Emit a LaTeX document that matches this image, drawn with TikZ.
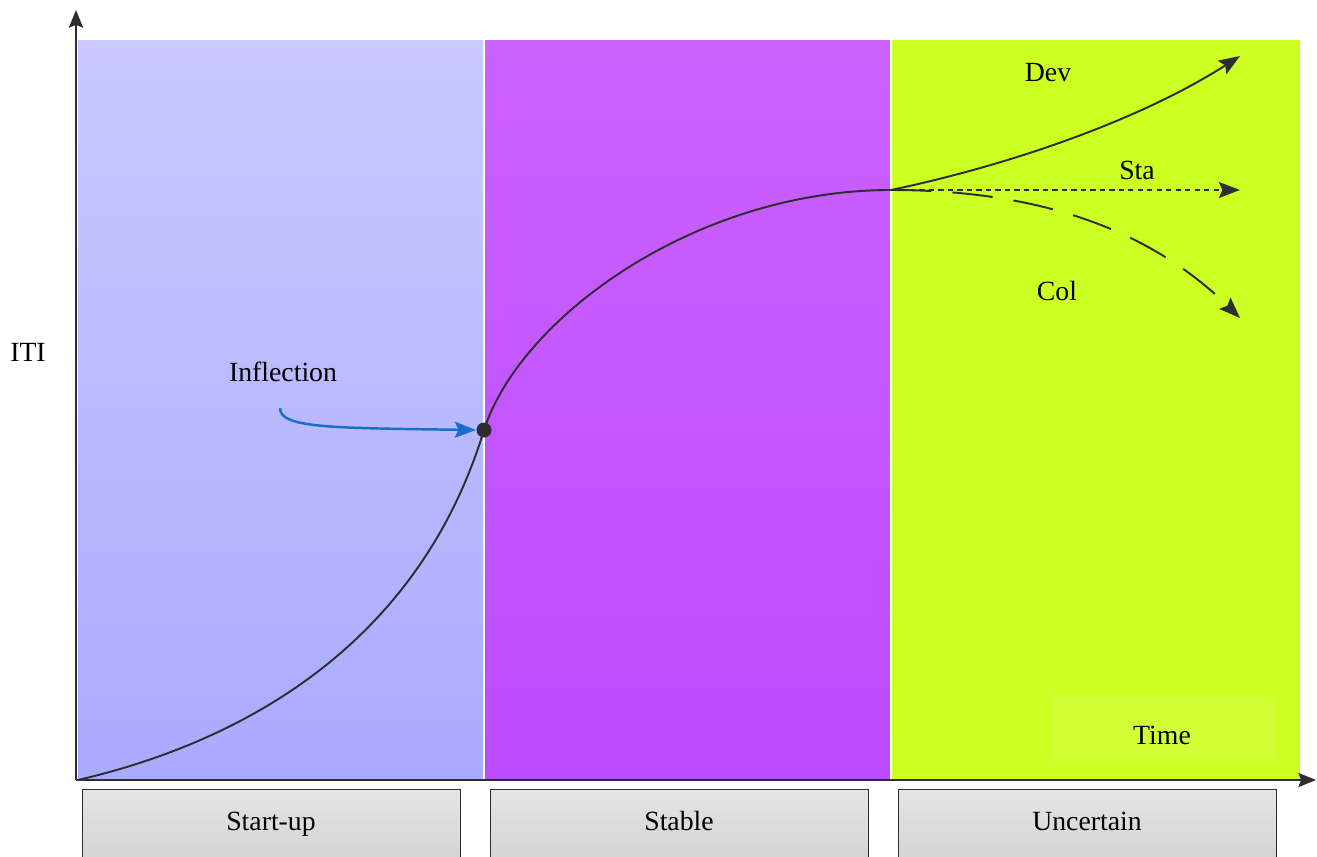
\documentclass[tikz,border=0pt]{standalone}
\usepackage{fontspec}
\setmainfont{Liberation Serif}
\usetikzlibrary{arrows.meta}
\definecolor{lavtop}{RGB}{201,201,255}
\definecolor{lavbot}{RGB}{170,170,255}
\definecolor{purtop}{RGB}{202,98,255}
\definecolor{purbot}{RGB}{190,74,255}
\definecolor{lime}{RGB}{204,255,34}
\definecolor{limelight}{RGB}{208,255,52}
\definecolor{ink}{RGB}{45,45,50}
\definecolor{inflblue}{RGB}{24,110,200}
\definecolor{boxtop}{RGB}{228,228,228}
\definecolor{boxbot}{RGB}{212,212,212}
\tikzset{
  lbl/.style={font=\fontsize{15.8}{19}\selectfont, text=black, inner sep=0pt},
  phasebox/.style={draw=ink, line width=0.8pt, top color=boxtop, bottom color=boxbot,
    minimum width={378*0.02cm}, minimum height={70*0.02cm}, anchor=north west, inner sep=0pt},
  curve/.style={draw=ink, line width=1.1pt},
  tip/.style={-{Stealth[length=10pt,width=8pt,inset=1.5pt]}},
  bigtip/.style={-{Stealth[length=12pt,width=9pt,inset=2pt]}},
}
\begin{document}
\begin{tikzpicture}[x=0.02cm,y=-0.02cm]
\useasboundingbox (0,0) rectangle (1317,856);
\clip (0,0) rectangle (1317,856);
% phase backgrounds
\shade[top color=lavtop, bottom color=lavbot] (78,40) rectangle (484,780);
\shade[top color=purtop, bottom color=purbot] (484,40) rectangle (891,780);
\fill[lime] (891,40) rectangle (1300,780);
\draw[white, line width=0.8pt] (484,40) -- (484,780) (891,40) -- (891,780);
\fill[limelight] (1050,697) rectangle (1276,760);
\node[lbl] (time) at (1162,735) {Time};
% axes
\coordinate (O) at (76,780);
\coordinate (ytop) at (76,10);
\coordinate (xend) at (1316,780);
\draw[ink, line width=1.3pt, tip] (O) -- (ytop);
\draw[ink, line width=1.3pt, tip] (O) -- (xend);
% phase boxes
\node[phasebox] (startup) at (82,789) {};
\node[lbl, anchor=base] (startuplbl) at (271,830) {Start-up};
\node[phasebox] (stable) at (490,789) {};
\node[lbl, anchor=base] (stablelbl) at (679,830) {Stable};
\node[phasebox] (uncertain) at (898,789) {};
\node[lbl, anchor=base] (uncertainlbl) at (1087,830) {Uncertain};
% labels
\node[lbl] (iti) at (28,352) {ITI};
\node[lbl] (infl) at (283,372) {Inflection};
\node[lbl] (dev) at (1048,73) {Dev};
\node[lbl] (sta) at (1137,170) {Sta};
\node[lbl] (col) at (1057,291) {Col};
% S curve
\coordinate (s0) at (78,780);
\coordinate (ip) at (484,430);
\coordinate (br) at (891,190);
\draw[curve] (s0) .. controls (250,740) and (420,640) .. (ip)
  .. controls (520,318) and (695,190) .. (br);
% branches
\coordinate (devend) at (1240,56);
\coordinate (staend) at (1240,190);
\coordinate (colend) at (1240,318);
\draw[curve, bigtip] (br) .. controls (1010,165) and (1140,120) .. (devend);
\draw[curve, line width=1.2pt, dash pattern=on 3pt off 2.4pt, bigtip] (br) -- (staend);
\draw[curve, dash pattern=on 23pt off 12pt, bigtip] (br) .. controls (1020,190) and (1140,220) .. (colend);
% inflection arrow and point
\coordinate (bstart) at (280,408);
\draw[inflblue, line width=1.4pt, bigtip] (bstart) .. controls (280,428) and (330,428) .. ([xshift={-8*0.02cm}]ip);
\fill[ink] (ip) circle (7.5);
\end{tikzpicture}
\end{document}
